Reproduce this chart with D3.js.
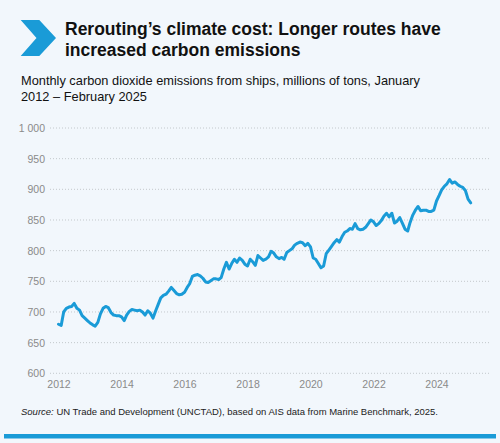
<!DOCTYPE html>
<html>
<head>
<meta charset="utf-8">
<script src="https://cdn.jsdelivr.net/npm/d3@7"></script>
<style>
  html, body { margin: 0; padding: 0; background: #f2f7fc; }
  svg { display: block; font-family: "Liberation Sans", Arial, Helvetica, sans-serif; }
</style>
</head>
<body>
<div id="chart"></div>
<script>
// monthly CO2 emissions from ships, millions of tons, Jan 2012 - Feb 2025
var startYear = 2012;
var emissions2012 = [680, 678, 700, 706, 708, 709, 714, 706, 703, 694, 690, 686];
var emissions2013 = [682, 679, 677, 683, 697, 706, 709, 707, 699, 695, 694, 694];
var emissions2014 = [692, 686, 695, 701, 704, 703, 702, 703, 700, 695, 702, 698];
var emissions2015 = [690, 702, 712, 723, 727, 729, 734, 740, 735, 730, 728, 729];
var emissions2016 = [732, 740, 746, 758, 760, 761, 759, 755, 749, 748, 751, 754];
var emissions2017 = [754, 753, 756, 770, 781, 770, 779, 786, 781, 788, 784, 778];
var emissions2018 = [775, 786, 782, 776, 792, 788, 784, 786, 790, 799, 796, 790];
var emissions2019 = [787, 789, 786, 797, 800, 803, 809, 812, 814, 813, 808, 812];
var emissions2020 = [806, 788, 786, 779, 772, 775, 795, 801, 807, 813, 818, 814];
var emissions2021 = [823, 830, 832, 836, 835, 844, 836, 834, 835, 838, 844, 850];
var emissions2022 = [847, 841, 844, 849, 856, 861, 855, 861, 845, 848, 854, 845];
var emissions2023 = [835, 832, 846, 858, 866, 872, 865, 866, 866, 864, 864, 866];
var emissions2024 = [881, 890, 899, 905, 909, 916, 910, 912, 908, 905, 903, 898];
var emissions2025 = [884, 878];

var yTicks = [600, 650, 700, 750, 800, 850, 900, 950, 1000];
var xTickYears = [2012, 2014, 2016, 2018, 2020, 2022, 2024];

var allYears = [emissions2012, emissions2013, emissions2014, emissions2015, emissions2016,
  emissions2017, emissions2018, emissions2019, emissions2020, emissions2021,
  emissions2022, emissions2023, emissions2024, emissions2025];

var data = [];
allYears.forEach(function(vals, i) {
  vals.forEach(function(v, m) {
    data.push({date: new Date(startYear + i, m, 1), value: v});
  });
});

var width = 500, height = 443;
var blue = "#1a9bd7";

var svg = d3.select("#chart").append("svg")
  .attr("width", width)
  .attr("height", height);

svg.append("rect")
  .attr("width", width)
  .attr("height", height)
  .attr("fill", "#f2f7fc");

// chevron
svg.append("path")
  .attr("d", "M20.7,20 L39.3,20 L56,38 L39.3,56 L20.7,56 L36.5,38 Z")
  .attr("fill", blue);

// title
var title = svg.append("text")
  .attr("x", 65)
  .attr("y", 35)
  .attr("font-size", 17.5)
  .attr("font-weight", "bold")
  .attr("fill", "#111");
title.append("tspan").attr("x", 65).text("Rerouting’s climate cost: Longer routes have");
title.append("tspan").attr("x", 65).attr("dy", 21).text("increased carbon emissions");

// subtitle
var sub = svg.append("text")
  .attr("x", 21)
  .attr("y", 85)
  .attr("font-size", 12.8)
  .attr("fill", "#111");
sub.append("tspan").attr("x", 21).text("Monthly carbon dioxide emissions from ships, millions of tons, January");
sub.append("tspan").attr("x", 21).attr("dy", 15.5).text("2012 – February 2025");

var x = d3.scaleTime()
  .domain([new Date(2012, 0, 1), new Date(2024, 0, 1)])
  .range([58.5, 436.5]);

var y = d3.scaleLinear()
  .domain([600, 1000])
  .range([373.3, 128]);

// y grid + labels
var yAxis = d3.axisLeft(y)
  .tickValues(yTicks)
  .tickSize(0)
  .tickPadding(5)
  .tickFormat(function(d) { return d >= 1000 ? d3.format(",")(d).replace(",", " ") : d; });

var yG = svg.append("g")
  .attr("transform", "translate(50,0)")
  .call(yAxis);
yG.select(".domain").remove();
yG.selectAll("text")
  .attr("font-size", 10.5)
  .attr("font-family", "'Liberation Sans', Arial, sans-serif")
  .attr("fill", "#8a8a8a");

svg.append("g").selectAll("line")
  .data(yTicks)
  .join("line")
  .attr("x1", 50)
  .attr("x2", 490)
  .attr("y1", function(d) { return y(d); })
  .attr("y2", function(d) { return y(d); })
  .attr("stroke", "#b8bcc0")
  .attr("stroke-width", 0.8)
  .attr("stroke-dasharray", "1,2");

// x labels
var xAxis = d3.axisBottom(x)
  .tickValues(xTickYears.map(function(yr) { return new Date(yr, 0, 1); }))
  .tickSize(0)
  .tickPadding(0)
  .tickFormat(d3.timeFormat("%Y"));

var xG = svg.append("g")
  .attr("transform", "translate(0,381)")
  .call(xAxis);
xG.select(".domain").remove();
xG.selectAll("text")
  .attr("font-size", 10.5)
  .attr("font-family", "'Liberation Sans', Arial, sans-serif")
  .attr("fill", "#8a8a8a");

// line
var line = d3.line()
  .x(function(d) { return x(d.date); })
  .y(function(d) { return y(d.value); });

svg.append("path")
  .datum(data)
  .attr("d", line)
  .attr("fill", "none")
  .attr("stroke", blue)
  .attr("stroke-width", 3)
  .attr("stroke-linejoin", "round")
  .attr("stroke-linecap", "round");

// source
var src = svg.append("text")
  .attr("x", 21)
  .attr("y", 415)
  .attr("font-size", 9.5)
  .attr("fill", "#222");
src.append("tspan").attr("font-style", "italic").text("Source:");
src.append("tspan").text(" UN Trade and Development (UNCTAD), based on AIS data from Marine Benchmark, 2025.");

// bottom bar
svg.append("rect")
  .attr("x", 4)
  .attr("y", 434)
  .attr("width", 492)
  .attr("height", 4.5)
  .attr("fill", blue);
</script>
</body>
</html>
